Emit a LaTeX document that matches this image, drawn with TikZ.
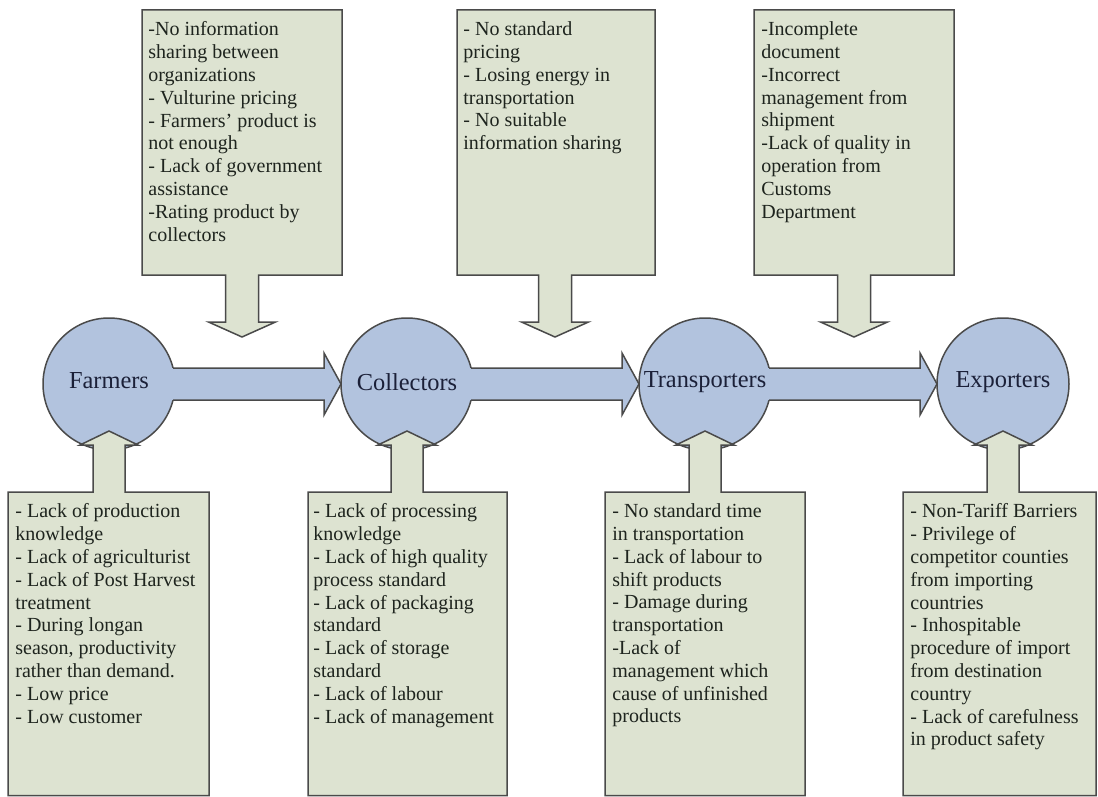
\documentclass[tikz,border=0pt]{standalone}
\usepackage{fontspec}
\setmainfont{Liberation Serif}
\usetikzlibrary{calc}
\definecolor{boxfill}{HTML}{DDE3D1}
\definecolor{circfill}{HTML}{B2C3DE}
\definecolor{edgegray}{HTML}{4A4A4A}
\definecolor{notetext}{HTML}{1E241E}
\definecolor{stagetext}{HTML}{1B2038}
\newcommand\upcallout[3]{\draw[callout] (#1,492) -- ({#3-16},492) -- ({#3-16},445) -- ({#3-29},445) -- (#3,431) -- ({#3+29},445) -- ({#3+16},445) -- ({#3+16},492) -- (#2,492) -- (#2,795.5) -- (#1,795.5) -- cycle;}
\newcommand\downcallout[3]{\draw[callout] (#1,10) -- (#2,10) -- (#2,275) -- ({#3+16.5},275) -- ({#3+16.5},322) -- ({#3+33.5},322) -- (#3,337) -- ({#3-33.5},322) -- ({#3-16.5},322) -- ({#3-16.5},275) -- (#1,275) -- cycle;}
\newcommand\flowarrow[2]{%
  \fill[circfill] ($(#1.center)+(50,-16)$) -- ($(#2.center)+(-83,-16)$) -- ($(#2.center)+(-83,-31)$) -- ($(#2.center)+(-66,0)$) -- ($(#2.center)+(-83,31)$) -- ($(#2.center)+(-83,16)$) -- ($(#1.center)+(50,16)$) -- cycle;
  \draw[flowedge] ($(#1.center)+(64,-16)$) -- ($(#2.center)+(-83,-16)$) -- ($(#2.center)+(-83,-31)$) -- ($(#2.center)+(-66,0)$) -- ($(#2.center)+(-83,31)$) -- ($(#2.center)+(-83,16)$) -- ($(#1.center)+(64,16)$);}
\begin{document}
\begin{tikzpicture}[x=0.5pt,y=-0.5pt,
  callout/.style={fill=boxfill,draw=edgegray,line width=0.75pt,line join=miter},
  stage/.style={circle,fill=circfill,draw=edgegray,line width=0.75pt,minimum size=66pt,inner sep=0pt},
  stagelabel/.style={inner sep=0pt,font=\fontsize{12.2}{14}\selectfont,text=stagetext},
  flowedge/.style={draw=edgegray,line width=0.75pt,line join=miter},
  note/.style={anchor=north west,align=left,inner sep=0pt,font=\fontsize{10}{11.4}\selectfont,text=notetext}]
\useasboundingbox (0,0) rectangle (1098,797);
\fill[white] (0,0) rectangle (1098,797);

% stages
\node[stage] (f) at (109,384) {};
\node[stage] (c) at (407,384) {};
\node[stage] (t) at (705,384) {};
\node[stage] (e) at (1003,384) {};

% flow arrows
\flowarrow{f}{c}
\flowarrow{c}{t}
\flowarrow{t}{e}

% stage names on top
\node[stagelabel] (fl) at ($(f.center)+(0,-3)$) {Farmers};
\node[stagelabel] (cl) at ($(c.center)+(0,-2)$) {Collectors};
\node[stagelabel] (tl) at ($(t.center)+(0,-2)$) {Transporters};
\node[stagelabel] (el) at ($(e.center)+(0,-2)$) {Exporters};

% top callouts
\downcallout{142}{342}{242}
\downcallout{457}{655}{555}
\downcallout{754}{954}{854}

\node[note] (n1) at (148,21.5) {-No information\\sharing between\\organizations\\- Vulturine pricing\\- Farmers’ product is\\not enough\\- Lack of government\\assistance\\-Rating product by\\collectors};
\node[note] (n2) at (463,21.5) {- No standard\\pricing\\- Losing energy in\\transportation\\- No suitable\\information sharing};
\node[note] (n3) at (761,21.5) {-Incomplete\\document\\-Incorrect\\management from\\shipment\\-Lack of quality in\\operation from\\Customs\\Department};

% bottom callouts
\upcallout{8}{209}{109}
\upcallout{308}{507}{407}
\upcallout{605}{805}{705}
\upcallout{903}{1096}{1003}

\node[note] (b1) at (15,503.5) {- Lack of production\\knowledge\\- Lack of agriculturist\\- Lack of Post Harvest\\treatment\\- During longan\\season, productivity\\rather than demand.\\- Low price\\- Low customer};
\node[note] (b2) at (313,503.5) {- Lack of processing\\knowledge\\- Lack of high quality\\process standard\\- Lack of packaging\\standard\\- Lack of storage\\standard\\- Lack of labour\\- Lack of management};
\node[note] (b3) at (612,503.5) {- No standard time\\in transportation\\- Lack of labour to\\shift products\\- Damage during\\transportation\\-Lack of\\management which\\cause of unfinished\\products};
\node[note] (b4) at (910,503.5) {- Non-Tariff Barriers\\- Privilege of\\competitor counties\\from importing\\countries\\- Inhospitable\\procedure of import\\from destination\\country\\- Lack of carefulness\\in product safety};
\end{tikzpicture}
\end{document}
